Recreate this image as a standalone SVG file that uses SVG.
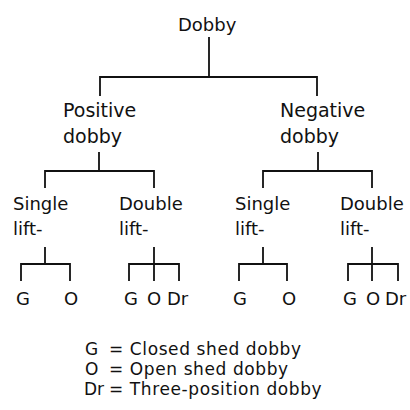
<svg xmlns="http://www.w3.org/2000/svg" width="410" height="410" viewBox="0 0 410 410">
  <style>
    .t { font-family: "DejaVu Sans", sans-serif; font-size: 18px; fill: #111; }
    .b { font-size: 19px; }
    .k { font-family: "DejaVu Sans", sans-serif; font-size: 17px; letter-spacing: 0.6px; fill: #111; }
    .n { letter-spacing: 0; }
    .c { fill: none; stroke: #111; stroke-width: 1.8; }
  </style>
  <rect width="410" height="410" fill="#fff"/>

  <g id="connectors" class="c">
    <!-- Dobby -> Positive / Negative -->
    <path d="M209 37 V77 M100 96 V77 H317 V96"/>
    <!-- Positive -> Single / Double -->
    <path d="M99 152 V171 M45 188 V171 H154 V188"/>
    <!-- Negative -> Single / Double -->
    <path d="M318 152 V171 M263 188 V171 H372 V188"/>
    <!-- Positive single lift -> G / O -->
    <path d="M45 247 V264 M21 281 V264 H70 V281"/>
    <!-- Positive double lift -> G / O / Dr -->
    <path d="M154 247 V281 M129 281 V264 H179 V281"/>
    <!-- Negative single lift -> G / O -->
    <path d="M263 247 V264 M239 281 V264 H287 V281"/>
    <!-- Negative double lift -> G / O / Dr -->
    <path d="M372 247 V281 M348 281 V264 H398 V281"/>
  </g>

  <g id="dobby"><text class="t" x="178" y="31">Dobby</text></g>

  <g id="positive">
    <text class="t b" x="63" y="117">Positive</text>
    <text class="t b" x="63" y="143">dobby</text>
  </g>
  <g id="negative">
    <text class="t b" x="280" y="117">Negative</text>
    <text class="t b" x="280" y="143">dobby</text>
  </g>

  <g id="pos-single">
    <text class="t" x="13" y="210">Single</text>
    <text class="t" x="13" y="235">lift-</text>
  </g>
  <g id="pos-double">
    <text class="t" x="119" y="210">Double</text>
    <text class="t" x="119" y="235">lift-</text>
  </g>
  <g id="neg-single">
    <text class="t" x="235" y="210">Single</text>
    <text class="t" x="235" y="235">lift-</text>
  </g>
  <g id="neg-double">
    <text class="t" x="340" y="210">Double</text>
    <text class="t" x="340" y="235">lift-</text>
  </g>

  <!-- leaf types -->
  <g id="pos-single-leaves">
    <text class="t" x="16" y="305">G</text>
    <text class="t" x="64" y="305">O</text>
  </g>
  <g id="pos-double-leaves">
    <text class="t" x="124" y="305">G</text>
    <text class="t" x="147" y="305">O</text>
    <text class="t" x="167" y="305">Dr</text>
  </g>
  <g id="neg-single-leaves">
    <text class="t" x="233" y="305">G</text>
    <text class="t" x="282" y="305">O</text>
  </g>
  <g id="neg-double-leaves">
    <text class="t" x="343" y="305">G</text>
    <text class="t" x="366" y="305">O</text>
    <text class="t" x="385" y="305">Dr</text>
  </g>

  <!-- key -->
  <g id="key">
    <text class="k" x="85" y="355">G</text>
    <text class="k" x="109" y="355">= Closed shed dobby</text>
    <text class="k" x="85" y="375">O</text>
    <text class="k" x="109" y="375">= Open shed dobby</text>
    <text class="k n" x="84" y="395">Dr</text>
    <text class="k" x="109" y="395">= Three-position dobby</text>
  </g>
</svg>
